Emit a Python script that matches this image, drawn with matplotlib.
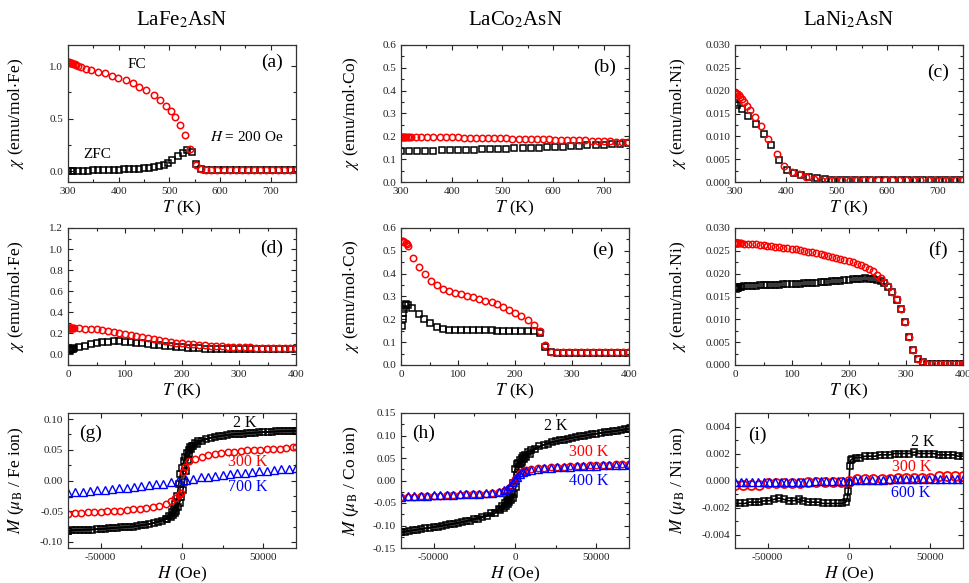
import matplotlib
matplotlib.use('Agg')
import matplotlib.pyplot as plt
from matplotlib.ticker import MultipleLocator, AutoMinorLocator

plt.rcParams['font.family'] = ['Liberation Serif', 'DejaVu Serif']
plt.rcParams['mathtext.fontset'] = 'stix'
plt.rcParams['axes.unicode_minus'] = False

# ---------------- data: chi(T), 300-750 K (top row) ----------------
a_fc_T = [300, 302, 304, 306, 308, 310, 313, 316, 320, 325, 335, 346, 359, 373, 386, 399, 414, 428, 441, 454,
          469, 482, 493, 503, 511, 521, 531, 541, 552, 562, 572, 583, 595, 607, 619, 631, 643, 655, 667, 679,
          691, 703, 715, 727, 739, 750]
a_fc_chi = [1.04, 1.035, 1.03, 1.03, 1.025, 1.02, 1.015, 1.01, 1.0, 0.99, 0.975, 0.96, 0.945, 0.93, 0.91, 0.89,
            0.865, 0.835, 0.805, 0.77, 0.73, 0.68, 0.62, 0.575, 0.515, 0.445, 0.35, 0.215, 0.065, 0.025,
            0.012, 0.01, 0.01, 0.01, 0.01, 0.01, 0.01, 0.01, 0.01, 0.01, 0.01, 0.01, 0.01, 0.01, 0.01, 0.01]
a_zfc_T = [300, 305, 310, 320, 330, 340, 350, 360, 370, 380, 390, 400, 410, 420, 430, 440, 450, 460, 470, 480,
           490, 497, 506, 517, 527, 535, 544, 553, 562, 572, 584, 596, 608, 620, 632, 644, 656, 668, 680, 692,
           704, 716, 728, 740, 750]
a_zfc_chi = [0.005, 0.005, 0.006, 0.007, 0.008, 0.009, 0.010, 0.011, 0.012, 0.014, 0.015, 0.017, 0.019, 0.021,
             0.024, 0.027, 0.031, 0.036, 0.042, 0.05, 0.062, 0.076, 0.105, 0.145, 0.175, 0.205, 0.18, 0.07,
             0.025, 0.012, 0.01, 0.01, 0.01, 0.01, 0.01, 0.01, 0.01, 0.01, 0.01, 0.01, 0.01, 0.01, 0.01, 0.01, 0.01]

b_fc_T = [300, 302, 304, 306, 308, 310, 313, 316, 320, 330, 340, 352, 364, 376, 388, 400, 412, 424, 436, 448,
          460, 472, 484, 496, 508, 520, 532, 544, 556, 568, 580, 592, 604, 616, 628, 640, 652, 664, 676, 688,
          700, 712, 724, 736, 748]
b_fc_chi = [0.198, 0.198, 0.198, 0.198, 0.198, 0.198, 0.198, 0.198, 0.198, 0.197, 0.197, 0.197, 0.196, 0.196,
            0.196, 0.195, 0.195, 0.194, 0.194, 0.193, 0.193, 0.192, 0.192, 0.191, 0.191, 0.190, 0.190, 0.189,
            0.189, 0.188, 0.188, 0.187, 0.186, 0.186, 0.185, 0.184, 0.183, 0.182, 0.181, 0.180, 0.179, 0.178,
            0.177, 0.176, 0.175]
b_zfc_T = [300, 316, 332, 348, 364, 380, 396, 412, 428, 444, 460, 476, 492, 508, 524, 540, 556, 572, 588, 604,
           620, 636, 652, 668, 684, 700, 716, 732, 748]
b_zfc_chi = [0.136, 0.136, 0.136, 0.137, 0.137, 0.138, 0.139, 0.140, 0.141, 0.142, 0.143, 0.144, 0.145, 0.146,
             0.147, 0.148, 0.149, 0.150, 0.152, 0.153, 0.155, 0.156, 0.158, 0.160, 0.162, 0.164, 0.166, 0.168, 0.170]

c_fc_T = [300, 302, 304, 307, 310, 313, 318, 323, 330, 339, 352, 366, 382, 397, 412, 427, 441, 456, 470, 484,
          498, 512, 526, 540, 554, 568, 582, 596, 610, 624, 638, 652, 666, 680, 694, 708, 722, 736, 750]
c_fc_chi = [0.0197, 0.0195, 0.0193, 0.0190, 0.0187, 0.0182, 0.0175, 0.0166, 0.0157, 0.0143, 0.0122, 0.0095,
            0.0062, 0.0036, 0.0022, 0.0018, 0.0012, 0.0007, 0.0005, 0.0004, 0.0004, 0.0004, 0.0004, 0.0004,
            0.0004, 0.0004, 0.0004, 0.0004, 0.0004, 0.0004, 0.0004, 0.0004, 0.0004, 0.0004, 0.0004, 0.0004,
            0.0004, 0.0004, 0.0004]
c_zfc_T = [300, 303, 313, 326, 341, 357, 372, 387, 402, 416, 431, 447, 461, 477, 492, 507, 522, 537, 552, 567,
           582, 597, 612, 627, 642, 657, 672, 687, 702, 717, 732, 747]
c_zfc_chi = [0.0172, 0.0168, 0.0159, 0.0144, 0.0127, 0.0106, 0.0080, 0.0049, 0.0027, 0.0020, 0.0015, 0.0012,
             0.0009, 0.0006, 0.0005, 0.0005, 0.0005, 0.0005, 0.0005, 0.0005, 0.0005, 0.0005, 0.0005, 0.0005,
             0.0005, 0.0005, 0.0005, 0.0005, 0.0005, 0.0005, 0.0005, 0.0005]

# ---------------- data: chi(T), 0-400 K (middle row) ----------------
d_T = [2, 10, 20, 30, 40, 50, 60, 70, 80, 90, 100, 110, 120, 130, 140, 150, 160, 170, 180, 190, 200, 210, 220,
       230, 240, 250, 260, 270, 280, 290, 300, 310, 320, 330, 340, 350, 360, 370, 380, 390, 400]
d_fc_chi = [0.25, 0.25, 0.248, 0.245, 0.242, 0.237, 0.232, 0.225, 0.217, 0.208, 0.198, 0.188, 0.177, 0.166,
            0.155, 0.145, 0.136, 0.128, 0.12, 0.113, 0.107, 0.101, 0.096, 0.092, 0.088, 0.084, 0.081, 0.078,
            0.075, 0.073, 0.071, 0.069, 0.067, 0.065, 0.064, 0.062, 0.061, 0.06, 0.059, 0.058, 0.057]
d_zfc_chi = [0.04, 0.058, 0.07, 0.085, 0.098, 0.108, 0.116, 0.121, 0.123, 0.123, 0.121, 0.117, 0.112, 0.106,
             0.1, 0.094, 0.088, 0.082, 0.077, 0.072, 0.068, 0.064, 0.061, 0.058, 0.056, 0.054, 0.052, 0.051,
             0.05, 0.049, 0.048, 0.048, 0.048, 0.049, 0.05, 0.05, 0.051, 0.052, 0.052, 0.053, 0.053]
d_low_T = [3, 4, 5, 6, 7, 8]
d_low_fc = [0.25, 0.25, 0.25, 0.25, 0.25, 0.25]
d_low_zfc = [0.042, 0.045, 0.048, 0.05, 0.053, 0.055]

e_fc_T = [2, 4, 6, 8, 10, 13, 21, 32, 42, 52, 63, 74, 85, 95, 105, 116, 127, 137, 148, 159, 169, 179, 190,
          200, 211, 222, 233, 243, 253, 263, 274, 284, 295, 305, 316, 326, 337, 347, 358, 368, 379, 389, 398]
e_fc_chi = [0.545, 0.543, 0.54, 0.535, 0.53, 0.519, 0.47, 0.43, 0.397, 0.37, 0.349, 0.335, 0.324, 0.315,
            0.309, 0.304, 0.297, 0.29, 0.282, 0.275, 0.265, 0.253, 0.24, 0.228, 0.213, 0.196, 0.176, 0.147,
            0.088, 0.059, 0.056, 0.055, 0.055, 0.055, 0.055, 0.055, 0.055, 0.055, 0.055, 0.055, 0.055, 0.055, 0.055]
e_zfc_T = [2, 3, 4, 5, 7, 9, 12, 20, 31, 41, 51, 63, 74, 85, 95, 105, 116, 127, 137, 148, 159, 169, 179, 190,
           200, 211, 222, 233, 243, 253, 263, 274, 284, 295, 305, 316, 326, 337, 347, 358, 368, 379, 389, 398]
e_zfc_chi = [0.169, 0.203, 0.228, 0.247, 0.262, 0.265, 0.262, 0.25, 0.224, 0.2, 0.184, 0.166, 0.157, 0.154,
             0.153, 0.153, 0.153, 0.153, 0.152, 0.152, 0.152, 0.151, 0.151, 0.151, 0.15, 0.15, 0.149, 0.148,
             0.14, 0.081, 0.056, 0.053, 0.053, 0.053, 0.053, 0.053, 0.053, 0.053, 0.053, 0.053, 0.053, 0.053,
             0.053, 0.053]

f_T = [1, 2, 3, 4, 5, 6, 8, 10, 15, 22, 29, 36, 43, 50, 57, 64, 71, 78, 85, 92, 100, 107, 114, 121, 128, 135,
       142, 150, 157, 164, 171, 178, 185, 192, 200, 207, 214, 221, 228, 235, 242, 249, 256, 262, 268, 276, 284,
       291, 298, 306, 313, 321, 329, 337, 345, 353, 361, 369, 377, 385, 393, 400]
f_fc_chi = [0.0268, 0.0268, 0.0268, 0.0268, 0.0268, 0.0268, 0.0268, 0.0268,
            0.0266, 0.0265, 0.0264, 0.0264, 0.0263, 0.0262, 0.0261, 0.0260, 0.0259, 0.0258,
            0.0257, 0.0256, 0.0255, 0.0253, 0.0252, 0.0250, 0.0248, 0.0247, 0.0245, 0.0243,
            0.0241, 0.0239, 0.0237, 0.0235, 0.0233, 0.0230, 0.0228, 0.0225, 0.0222, 0.0219,
            0.0215, 0.0211, 0.0205, 0.0198, 0.0190, 0.0181, 0.0172, 0.0160, 0.0144, 0.0123,
            0.0095, 0.0062, 0.0032, 0.0014, 0.0006, 0.0003, 0.0002, 0.0002, 0.0002, 0.0002,
            0.0002, 0.0002, 0.0002, 0.0002]
f_zfc_chi = [0.0167, 0.0168, 0.0168, 0.0169, 0.0169, 0.0170, 0.0170, 0.0171,
             0.0172, 0.0173, 0.0174, 0.0174, 0.0175, 0.0175, 0.0175, 0.0176, 0.0176, 0.0176,
             0.0177, 0.0177, 0.0177, 0.0178, 0.0178, 0.0179, 0.0179, 0.0180, 0.0180, 0.0181,
             0.0181, 0.0182, 0.0183, 0.0184, 0.0185, 0.0186, 0.0187, 0.0188, 0.0189, 0.0189,
             0.0190, 0.0189, 0.0188, 0.0186, 0.0183, 0.0179, 0.0171, 0.0160, 0.0143, 0.0122,
             0.0094, 0.0061, 0.0032, 0.0014, 0.0006, 0.0003, 0.0002, 0.0002, 0.0002, 0.0002,
             0.0002, 0.0002, 0.0002, 0.0002]

# ---------------- data: M(H) loops (bottom row) ----------------
loop_H_down = [70000, 65000, 60000, 55000, 50000, 45000, 40000, 35000, 30000, 25000, 20000, 15000, 10000, 8000,
               6000, 5000, 4000, 3000, 2000, 1000, 0, -1000, -2000, -3000, -4000, -5000, -6000, -8000, -10000,
               -15000, -20000, -25000, -30000, -35000, -40000, -45000, -50000, -55000, -60000, -65000, -70000]
loop_H_up = [-70000, -67500, -62500, -57500, -52500, -47500, -42500, -37500, -32500, -27500, -22500, -17500,
             -12500, -9000, -7000, -5500, -4500, -3500, -2500, -1500, -500, 500, 1500, 2500, 3500, 4500, 5500,
             7000, 9000, 12500, 17500, 22500, 27500, 32500, 37500, 42500, 47500, 52500, 57500, 62500, 67500, 70000]

g_2K_down = [0.081, 0.0805, 0.080, 0.0795, 0.079, 0.078, 0.077, 0.076, 0.075, 0.073, 0.071, 0.068, 0.064, 0.061,
             0.057, 0.054, 0.050, 0.045, 0.039, 0.031, 0.021, 0.010, -0.006, -0.026, -0.039, -0.047, -0.052,
             -0.058, -0.062, -0.067, -0.071, -0.073, -0.075, -0.076, -0.077, -0.078, -0.079, -0.080, -0.080,
             -0.081, -0.082]
g_2K_up = [-0.082, -0.081, -0.0805, -0.080, -0.079, -0.0785, -0.0775, -0.0765, -0.0755, -0.074, -0.072, -0.0695,
           -0.066, -0.062, -0.059, -0.056, -0.053, -0.049, -0.043, -0.036, -0.027, -0.016, -0.002, 0.016, 0.033,
           0.044, 0.051, 0.056, 0.060, 0.065, 0.0695, 0.072, 0.074, 0.0755, 0.0765, 0.0775, 0.0785, 0.079, 0.080,
           0.0805, 0.081, 0.081]
g_300K_H = [-70000, -66000, -62000, -58000, -54000, -50000, -46000, -42000, -38000, -34000, -30000, -26000,
            -22000, -18000, -14000, -10000, -7000, -4500, -2000, -500, 500, 2000, 4000, 8000, 12000, 16000, 20000,
            24000, 28000, 32000, 36000, 40000, 44000, 48000, 52000, 56000, 60000, 64000, 68000, 70000]
g_300K_M = [-0.054, -0.053, -0.053, -0.052, -0.052, -0.051, -0.050, -0.050, -0.049, -0.048, -0.047, -0.046,
            -0.045, -0.043, -0.041, -0.038, -0.034, -0.029, -0.024, -0.020, 0.0146, 0.022, 0.031, 0.035, 0.039,
            0.041, 0.043, 0.045, 0.046, 0.047, 0.048, 0.049, 0.050, 0.050, 0.051, 0.052, 0.052, 0.053, 0.054, 0.054]
g_700K_H = [-70000, -65500, -61000, -56500, -52000, -47500, -43000, -38500, -34000, -29500, -25000, -20500,
            -16000, -11500, -7000, -2500, 2500, 7000, 11500, 16000, 20500, 25000, 29500, 34000, 38500, 43000,
            47500, 52000, 56500, 61000, 65500, 70000]
g_700K_M = [-0.020, -0.019, -0.018, -0.017, -0.016, -0.015, -0.014, -0.013, -0.012, -0.010, -0.009, -0.008,
            -0.006, -0.005, -0.003, -0.001, 0.001, 0.003, 0.005, 0.006, 0.008, 0.009, 0.010, 0.012, 0.013, 0.014,
            0.015, 0.016, 0.017, 0.018, 0.019, 0.020]

h_2K_down = [0.115, 0.112, 0.109, 0.107, 0.104, 0.101, 0.098, 0.095, 0.091, 0.087, 0.082, 0.076, 0.068, 0.063,
             0.057, 0.054, 0.050, 0.045, 0.040, 0.036, 0.025, -0.005, -0.025, -0.034, -0.040, -0.045, -0.049,
             -0.056, -0.063, -0.073, -0.080, -0.085, -0.090, -0.094, -0.097, -0.100, -0.103, -0.106, -0.109,
             -0.112, -0.115]
h_2K_up = [-0.115, -0.1135, -0.1105, -0.108, -0.1055, -0.1025, -0.0995, -0.0965, -0.093, -0.089, -0.085, -0.0795,
           -0.073, -0.066, -0.061, -0.056, -0.052, -0.047, -0.043, -0.038, -0.031, -0.015, 0.012, 0.030, 0.037,
           0.042, 0.047, 0.053, 0.060, 0.0695, 0.079, 0.085, 0.089, 0.093, 0.0965, 0.0995, 0.1025, 0.1055, 0.108,
           0.1105, 0.1135, 0.115]
h_H = [-70000, -66000, -62000, -58000, -54000, -50000, -46000, -42000, -38000, -34000, -30000, -26000, -22000,
       -18000, -14000, -10000, -7000, -5000, -3000, -1000, 0, 1000, 3000, 5000, 7000, 10000, 14000, 18000, 22000,
       26000, 30000, 34000, 38000, 42000, 46000, 50000, 54000, 58000, 62000, 66000, 70000]
h_300K_M = [-0.037, -0.036, -0.036, -0.035, -0.035, -0.034, -0.034, -0.033, -0.033, -0.032, -0.031, -0.031,
            -0.030, -0.029, -0.028, -0.026, -0.023, -0.020, -0.014, -0.004, 0.003, 0.007, 0.016, 0.021, 0.023,
            0.025, 0.027, 0.028, 0.029, 0.030, 0.031, 0.032, 0.033, 0.033, 0.034, 0.034, 0.035, 0.035, 0.036,
            0.036, 0.037]
h_400K_M = [-0.036, -0.035, -0.035, -0.034, -0.034, -0.033, -0.033, -0.032, -0.032, -0.031, -0.030, -0.030,
            -0.029, -0.028, -0.027, -0.025, -0.022, -0.019, -0.013, -0.003, 0.003, 0.007, 0.015, 0.020, 0.022,
            0.024, 0.026, 0.027, 0.028, 0.029, 0.030, 0.031, 0.032, 0.032, 0.033, 0.033, 0.034, 0.034, 0.035,
            0.035, 0.036]

i_2K_H = [-70000, -67000, -64000, -61000, -58000, -55000, -52000, -49000, -46000, -43000, -40000, -37000, -34000,
          -31000, -28000, -25000, -22000, -19000, -16000, -13000, -10000, -7000, -4000, -2000, -1000, -500, 0, 500,
          1000, 2000, 4000, 7000, 10000, 13000, 16000, 19000, 22000, 25000, 28000, 31000, 34000, 37000, 40000,
          43000, 46000, 49000, 52000, 55000, 58000, 61000, 64000, 67000, 70000]
i_2K_M = [-0.0017, -0.0017, -0.0017, -0.0016, -0.0016, -0.0016, -0.0015, -0.0015, -0.0014, -0.0013,
          -0.0014, -0.0015, -0.0015, -0.0014, -0.0015, -0.0016, -0.0016, -0.0016, -0.0017, -0.0017,
          -0.0017, -0.0017, -0.0017, -0.0016, -0.0013, -0.0008, -0.0002, 0.0011, 0.0015, 0.0016,
          0.0017, 0.0017, 0.0018, 0.0018, 0.0018, 0.0019, 0.0019, 0.0019, 0.0020, 0.0020,
          0.0020, 0.0020, 0.0021, 0.0020, 0.0020, 0.0020, 0.0020, 0.0019, 0.0019, 0.0019,
          0.0019, 0.0018, 0.0018]
i_300K_H = [-70000, -65000, -60000, -55000, -50000, -45000, -40000, -35000, -30000, -25000, -20000, -15000,
            -10000, -5000, 0, 5000, 10000, 15000, 20000, 25000, 30000, 35000, 40000, 45000, 50000, 55000, 60000,
            65000, 70000]
i_300K_M = [-0.0003, -0.0003, -0.0003, -0.0003, -0.0002, -0.0002, -0.0002, -0.0002, -0.0002, -0.0001, -0.0001,
            -0.0001, -0.0001, -0.0001, 0.0, 0.0001, 0.0001, 0.0001, 0.0001, 0.0001, 0.0002, 0.0002, 0.0002,
            0.0002, 0.0002, 0.0003, 0.0003, 0.0003, 0.0003]
i_600K_H = [-70000, -66500, -63000, -59500, -56000, -52500, -49000, -45500, -42000, -38500, -35000, -31500,
            -28000, -24500, -21000, -17500, -14000, -10500, -7000, -3500, 0, 3500, 7000, 10500, 14000, 17500,
            21000, 24500, 28000, 31500, 35000, 38500, 42000, 45500, 49000, 52500, 56000, 59500, 63000, 66500, 70000]
i_600K_M = [-0.0001, -0.0001, -0.0001, -0.0001, -0.0001, -0.0001, -0.0001, -0.0001, -0.0001, -0.0001, -0.0001,
            -0.0001, -0.0001, -0.0001, -0.00005, -0.00005, -0.00005, -0.00005, -0.00005, -0.00005, 0.0,
            0.00005, 0.00005, 0.00005, 0.00005, 0.00005, 0.00005, 0.0001, 0.0001, 0.0001, 0.0001, 0.0001,
            0.0001, 0.0001, 0.0001, 0.0001, 0.0001, 0.0001, 0.0001, 0.0001, 0.0001]

titles = ['LaFe$_2$AsN', 'LaCo$_2$AsN', 'LaNi$_2$AsN']
ions = ['Fe', 'Co', 'Ni']

RED = '#ff0000'
BLUE = '#0000ff'
sq = dict(marker='s', ls='none', mfc='none', mec='k', mew=1.1, ms=4)
circ = dict(marker='o', ls='none', mfc='none', mec=RED, mew=1.1, ms=4.6)
tri = dict(marker='^', ls='none', mfc='none', mec=BLUE, mew=1.0, ms=5.2)

W, H = 969, 583
fig = plt.figure(figsize=(W / 100, H / 100), dpi=100)
lefts = [68, 401, 735]
rows = [(182, 137), (365, 137), (548, 135)]  # (bottom pixel, height)


def make_axes(col, row):
    bottom, h = rows[row]
    return fig.add_axes([lefts[col] / W, (H - bottom) / H, 228 / W, h / H])


def style(ax, xlim, xstep, ylim, ystep):
    ax.set_xlim(xlim)
    ax.set_ylim(ylim)
    ax.xaxis.set_major_locator(MultipleLocator(xstep))
    ax.xaxis.set_minor_locator(AutoMinorLocator(2))
    ax.yaxis.set_major_locator(MultipleLocator(ystep))
    ax.yaxis.set_minor_locator(AutoMinorLocator(2))
    ax.tick_params(which='both', direction='in', top=True, right=True, labelsize=8, colors='#222222')
    ax.tick_params(which='major', length=3.5, width=0.8)
    ax.tick_params(which='minor', length=2, width=0.8)
    for s in ax.spines.values():
        s.set_linewidth(0.9)
        s.set_color('#333333')


ylab_x = [-0.185, -0.175, -0.205]

# top row
axes_top = [make_axes(c, 0) for c in range(3)]
ax = axes_top[0]
ax.plot(a_zfc_T, a_zfc_chi, **sq)
ax.plot(a_fc_T, a_fc_chi, **circ)
style(ax, (300, 750), 100, (-0.1, 1.2), 0.5)
ax.text(0.30, 0.855, 'FC', transform=ax.transAxes, fontsize=11, ha='center', va='center')
ax.text(0.13, 0.20, 'ZFC', transform=ax.transAxes, fontsize=11, ha='center', va='center')
ax.text(0.785, 0.33, '$H$ = 200 Oe', transform=ax.transAxes, fontsize=11, ha='center', va='center')

ax = axes_top[1]
ax.plot(b_zfc_T, b_zfc_chi, **sq)
ax.plot(b_fc_T, b_fc_chi, **circ)
style(ax, (300, 750), 100, (0, 0.6), 0.1)

ax = axes_top[2]
ax.plot(c_zfc_T, c_zfc_chi, **sq)
ax.plot(c_fc_T, c_fc_chi, **circ)
style(ax, (300, 750), 100, (0, 0.03), 0.005)

# middle row
axes_mid = [make_axes(c, 1) for c in range(3)]
ax = axes_mid[0]
ax.plot(d_T, d_zfc_chi, **sq)
ax.plot(d_low_T, d_low_zfc, **sq)
ax.plot(d_T, d_fc_chi, **circ)
ax.plot(d_low_T, d_low_fc, **circ)
style(ax, (0, 400), 100, (-0.1, 1.2), 0.2)

ax = axes_mid[1]
ax.plot(e_zfc_T, e_zfc_chi, **sq)
ax.plot(e_fc_T, e_fc_chi, **circ)
style(ax, (0, 400), 100, (0, 0.6), 0.1)

ax = axes_mid[2]
ax.plot(f_T, f_zfc_chi, **sq)
ax.plot(f_T, f_fc_chi, **circ)
style(ax, (0, 400), 100, (0, 0.03), 0.005)

for c, ax in enumerate(axes_top + axes_mid):
    ax.set_xlabel('$T$ (K)', fontsize=12.5, labelpad=2)
    ax.set_ylabel(r'$\chi$ (emu/mol$\cdot$%s)' % ions[c % 3], fontsize=12.5)
    ax.yaxis.set_label_coords(ylab_x[c % 3], 0.5)

# bottom row
axes_bot = [make_axes(c, 2) for c in range(3)]
ax = axes_bot[0]
ax.plot(loop_H_down, g_2K_down, color='k', lw=1.2, **{k: v for k, v in sq.items() if k != 'ls'})
ax.plot(loop_H_up, g_2K_up, color='k', lw=1.2, **{k: v for k, v in sq.items() if k != 'ls'})
ax.plot(g_300K_H, g_300K_M, **circ)
ax.plot(g_700K_H, g_700K_M, **tri)
style(ax, (-70000, 70000), 50000, (-0.11, 0.11), 0.05)
ax.text(0.775, 0.925, '2 K', transform=ax.transAxes, fontsize=11.5, ha='center', va='center')
ax.text(0.79, 0.64, '300 K', transform=ax.transAxes, fontsize=11.5, ha='center', va='center', color=RED)
ax.text(0.79, 0.45, '700 K', transform=ax.transAxes, fontsize=11.5, ha='center', va='center', color=BLUE)

ax = axes_bot[1]
ax.plot(loop_H_down, h_2K_down, color='k', lw=1.2, **{k: v for k, v in sq.items() if k != 'ls'})
ax.plot(loop_H_up, h_2K_up, color='k', lw=1.2, **{k: v for k, v in sq.items() if k != 'ls'})
ax.plot(h_H, h_300K_M, **circ)
ax.plot(h_H, h_400K_M, **tri)
style(ax, (-70000, 70000), 50000, (-0.15, 0.15), 0.05)
ax.text(0.68, 0.905, '2 K', transform=ax.transAxes, fontsize=11.5, ha='center', va='center')
ax.text(0.825, 0.71, '300 K', transform=ax.transAxes, fontsize=11.5, ha='center', va='center', color=RED)
ax.text(0.825, 0.495, '400 K', transform=ax.transAxes, fontsize=11.5, ha='center', va='center', color=BLUE)

ax = axes_bot[2]
ax.plot(i_2K_H, i_2K_M, color='k', lw=1.2, **{k: v for k, v in sq.items() if k != 'ls'})
ax.plot(i_300K_H, i_300K_M, marker='o', ls='none', mfc='none', mec=RED, mew=1.3, ms=6.5)
ax.plot(i_600K_H, i_600K_M, **tri)
style(ax, (-70000, 70000), 50000, (-0.005, 0.005), 0.002)
ax.text(0.825, 0.785, '2 K', transform=ax.transAxes, fontsize=11.5, ha='center', va='center')
ax.text(0.775, 0.60, '300 K', transform=ax.transAxes, fontsize=11.5, ha='center', va='center', color=RED)
ax.text(0.77, 0.405, '600 K', transform=ax.transAxes, fontsize=11.5, ha='center', va='center', color=BLUE)

for c, ax in enumerate(axes_bot):
    ax.set_xlabel('$H$ (Oe)', fontsize=12.5, labelpad=2)
    ax.set_ylabel(r'$M$ ($\mu_{\rm B}$ / %s ion)' % ions[c], fontsize=12.5)
    ax.yaxis.set_label_coords(ylab_x[c], 0.5)

# panel letters
letters = [('(a)', 0.895, 0.87), ('(b)', 0.895, 0.84), ('(c)', 0.89, 0.80),
           ('(d)', 0.895, 0.855), ('(e)', 0.885, 0.84), ('(f)', 0.89, 0.84),
           ('(g)', 0.10, 0.85), ('(h)', 0.10, 0.85), ('(i)', 0.10, 0.835)]
for ax, (lab, x, y) in zip(axes_top + axes_mid + axes_bot, letters):
    ax.text(x, y, lab, transform=ax.transAxes, fontsize=14, ha='center', va='center')

# column titles
for c in range(3):
    fig.text((lefts[c] + 114) / W, 1 - 20 / H, titles[c], fontsize=15, ha='center', va='center')

fig.savefig('out.png', dpi=100)
